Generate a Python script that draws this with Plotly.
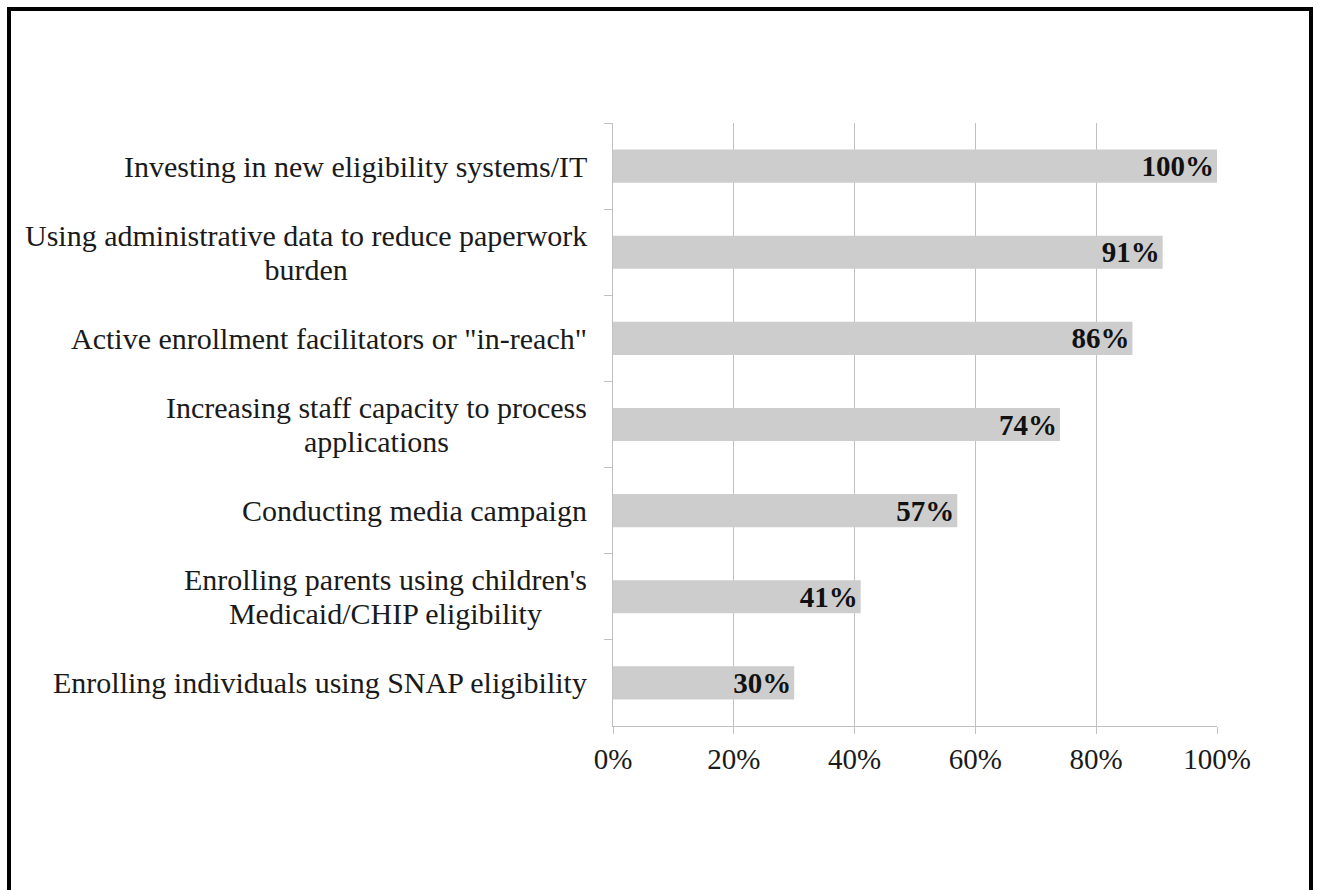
import plotly.graph_objects as go

categories = [
    "Investing in new eligibility systems/IT",
    "Using administrative data to reduce paperwork<br>burden",
    "Active enrollment facilitators or \"in-reach\"",
    "Increasing staff capacity to process<br>applications",
    "Conducting media campaign",
    "Enrolling parents using children's<br>Medicaid/CHIP eligibility",
    "Enrolling individuals using SNAP eligibility",
]
values = [100, 91, 86, 74, 57, 41, 30]
value_labels = ["100%", "91%", "86%", "74%", "57%", "41%", "30%"]
x_tickvals = [0, 20, 40, 60, 80, 100]
x_ticktext = ["0%", "20%", "40%", "60%", "80%", "100%"]

FONT = "Liberation Serif, Times New Roman, serif"
W, H = 1318, 890
L, R, T, B = 613, 101, 123, 164
pw, ph = W - L - R, H - T - B

fig = go.Figure()
fig.add_trace(go.Bar(
    x=values, y=categories, orientation="h",
    marker=dict(color="#cdcdcd", line=dict(width=0)),
    text=value_labels, textposition="inside", insidetextanchor="end",
    constraintext="none",
    textfont=dict(family=FONT, size=29, color="#111111", weight="bold"),
    hoverinfo="skip",
))

annotations = []
for c in categories:
    lines = c.split("<br>")
    txt = "<br>".join('<span style="font-size:30px">%s</span>' % ln for ln in lines)
    annotations.append(dict(
        x=0, xref="paper", y=c, yref="y", xanchor="right", yanchor="middle",
        xshift=-24, align="center", showarrow=False, text=txt,
        font=dict(family=FONT, size=26, color="#1a1a1a"),
    ))

def px2x(px):
    return (px - L) / pw

def py2y(py):
    return (H - B - py) / ph

shapes = [dict(
    type="rect", xref="paper", yref="paper",
    x0=px2x(9), x1=px2x(1311), y0=py2y(900), y1=py2y(9),
    line=dict(color="black", width=4), fillcolor="rgba(0,0,0,0)", layer="above",
)]

fig.update_layout(
    width=W, height=H,
    margin=dict(l=L, r=R, t=T, b=B),
    paper_bgcolor="white", plot_bgcolor="white",
    bargap=0.615,
    showlegend=False,
    annotations=annotations,
    shapes=shapes,
    xaxis=dict(
        range=[0, 100], tickvals=x_tickvals, ticktext=x_ticktext,
        showgrid=True, gridcolor="#c0c0c0", gridwidth=1,
        showline=True, linecolor="#c0c0c0", linewidth=1,
        ticks="outside", ticklen=7, tickcolor="#c0c0c0",
        tickfont=dict(family=FONT, size=29, color="#1a1a1a"),
        zeroline=False, fixedrange=True,
    ),
    yaxis=dict(
        autorange="reversed", showticklabels=False,
        showline=True, linecolor="#c0c0c0", linewidth=1,
        ticks="outside", ticklen=8, tickcolor="#c0c0c0",
        tickson="boundaries", showgrid=False, fixedrange=True,
    ),
)

fig.write_html("out.html", config={"displayModeBar": False},
               post_script="document.body.style.margin='0';")
